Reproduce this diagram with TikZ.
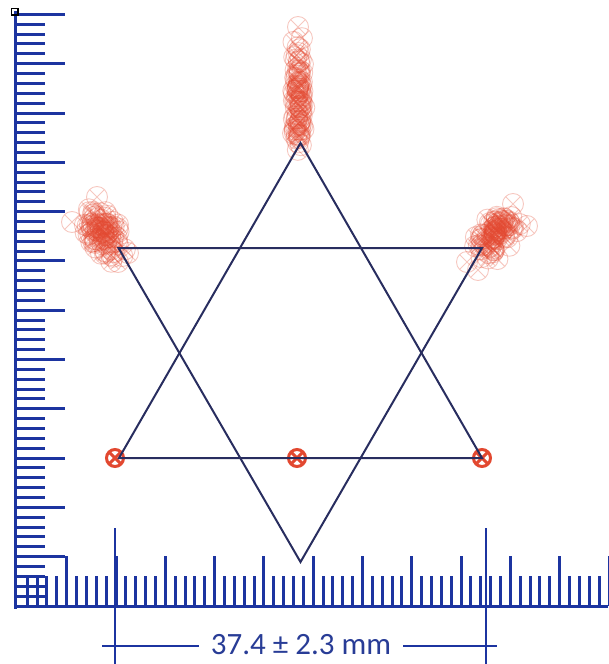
\documentclass[tikz,border=0pt]{standalone}
\usepackage{fontspec}
\setmainfont{Carlito}
\definecolor{rul}{RGB}{28,52,160}
\definecolor{lbl}{RGB}{40,60,150}
\definecolor{starc}{RGB}{40,45,95}
\definecolor{mk}{RGB}{226,72,48}
\tikzset{
  tick/.style={rul, line width=3pt},
  starline/.style={starc, line width=2pt, line join=miter},
  meas/.style={rul, line width=2.4pt},
  xc/.pic={\draw[mk, line width=0.9pt, draw opacity=0.3] (0,0) circle[radius=10.5pt] (45:10.5pt) -- (225:10.5pt) (135:10.5pt) -- (315:10.5pt);},
  xm/.pic={\draw[mk, line width=3pt] (0,0) circle[radius=8.5pt] (45:8.5pt) -- (225:8.5pt) (135:8.5pt) -- (315:8.5pt);}
}
\begin{document}
\begin{tikzpicture}[x=1pt,y=-1pt]
\useasboundingbox (0,0) rectangle (608,664);
% rulers
\draw[tick] (15.5,11) -- (15.5,609);
\draw[tick] (14,606) -- (608,606);
\foreach \j in {1,...,60}{
  \pgfmathsetmacro\yy{606-9.86*\j}
  \pgfmathtruncatemacro\m{mod(\j,5)}
  \ifnum\m=0 \draw[tick] (15.5,\yy) -- (65,\yy); \else \draw[tick] (15.5,\yy) -- (45,\yy); \fi
}
\foreach \j in {1,...,60}{
  \pgfmathsetmacro\xx{17.4+9.86*\j}
  \pgfmathtruncatemacro\m{mod(\j,5)}
  \ifnum\m=0 \draw[tick] (\xx,606) -- (\xx,556); \else \draw[tick] (\xx,606) -- (\xx,576); \fi
}
\draw[black, line width=1.4pt] (11.5,8.5) rectangle (18,15);
% measurement
\coordinate (mla) at (115,528); \coordinate (mlb) at (115,664);
\coordinate (mra) at (486,528); \coordinate (mrb) at (486,664);
\coordinate (hl) at (102,646); \coordinate (hr) at (497,646);
\node[lbl, font=\fontsize{31}{36}\selectfont, inner xsep=12pt, inner ysep=0pt] (label) at (301,645) {37.4 ± 2.3 mm};
\draw[meas] (mla) -- (mlb);
\draw[meas] (mra) -- (mrb);
\draw[meas] (hl) -- (hl -| label.west);
\draw[meas] (hr -| label.east) -- (hr);
% clusters
\pgfmathsetseed{11}
\foreach \i in {1,...,90}{
  \pgfmathsetmacro\u{rand+rand}
  \pgfmathsetmacro\xx{298.5+3.2*\u}
  \pgfmathsetmacro\yy{94+40*rand+26*rand}
  \pic at (\xx,\yy) {xc};
}
\foreach \i in {1,...,90}{
  \pgfmathsetmacro\u{rand+rand}
  \pgfmathsetmacro\v{rand+rand}
  \pgfmathsetmacro\xx{104+7*\u+9*\v}
  \pgfmathsetmacro\yy{232+15*\u-4*\v}
  \pic at (\xx,\yy) {xc};
}
\foreach \i in {1,...,90}{
  \pgfmathsetmacro\u{rand+rand}
  \pgfmathsetmacro\v{rand+rand}
  \pgfmathsetmacro\xx{497+9*\u+7*\v}
  \pgfmathsetmacro\yy{234-12*\u+6*\v}
  \pic at (\xx,\yy) {xc};
}
\pic at (298,27) {xc};
\pic at (72,222) {xc};
\pic at (97,197) {xc};
\pic at (118,262) {xc};
\pic at (513,204) {xc};
\pic at (527,226) {xc};
\pic at (467,262) {xc};
\pic at (478,270) {xc};
% base markers
\pic at (115,458) {xm};
\pic at (297,458) {xm};
\pic at (482,458) {xm};
% star
\coordinate (ua) at (300.5,143);
\coordinate (ul) at (119,458);
\coordinate (ur) at (482,458);
\coordinate (dl) at (118.5,248);
\coordinate (dr) at (482,248);
\coordinate (db) at (300.5,562);
\draw[starline] (ua) -- (ul) -- (ur) -- cycle;
\draw[starline] (dl) -- (dr) -- (db) -- cycle;
\end{tikzpicture}
\end{document}
